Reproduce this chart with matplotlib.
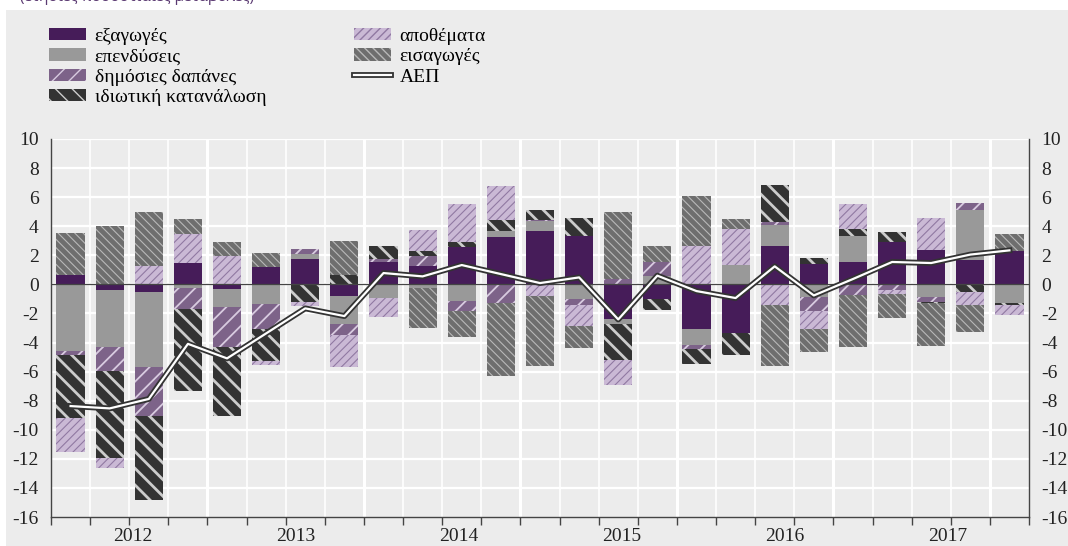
import numpy as np
import matplotlib as mpl
import matplotlib.pyplot as plt
import matplotlib.patheffects as pe
from matplotlib.patches import Rectangle

plt.rcParams['font.family'] = ['Liberation Serif', 'DejaVu Serif']
plt.rcParams['axes.unicode_minus'] = False

## quarters 2012Q1 .. 2018Q1
quarters = ['2012Q1', '2012Q2', '2012Q3', '2012Q4', '2013Q1', '2013Q2', '2013Q3', '2013Q4',
            '2014Q1', '2014Q2', '2014Q3', '2014Q4', '2015Q1', '2015Q2', '2015Q3', '2015Q4',
            '2016Q1', '2016Q2', '2016Q3', '2016Q4', '2017Q1', '2017Q2', '2017Q3', '2017Q4',
            '2018Q1']
years = ['2012', '2013', '2014', '2015', '2016', '2017']

## contributions (percentage points)
exports = [0.62, -0.41, -0.53, 1.49, -0.34, 1.17, 1.77, -0.83, 1.54, 1.24, 2.57, 3.24, 3.66,
           3.36, -2.41, -1.03, -3.06, -3.33, 2.62, 1.43, 1.52, 2.90, 2.34, 1.66, 2.30]
investment = [-4.60, -3.93, -5.13, -0.28, -1.24, -1.38, 0.34, -1.89, -0.94, -0.28, -1.17, 0.41, 0.69,
              -1.03, -0.34, 0.60, -1.08, 1.31, 1.49, -0.87, 1.79, 0.0, -0.87, 3.45, -1.26]
public = [-0.23, -1.59, -3.38, -1.40, -2.76, -1.72, 0.34, -0.74, 0.18, 0.69, -0.67, -1.26, 0.11,
          -0.39, 0.34, 0.94, -0.28, 0.0, 0.16, -0.99, -0.76, -0.41, -0.34, 0.46, 0.0]
private = [-4.37, -5.98, -5.77, -5.68, -4.69, -2.14, -1.22, 0.62, 0.90, 0.34, 0.32, 0.76, 0.64,
           1.20, -2.48, -0.76, -1.06, -1.56, 2.55, 0.37, 0.48, 0.69, -0.05, -0.53, -0.18]
inventories = [-2.30, -0.69, 1.24, 1.98, 1.93, -0.28, -0.28, -2.25, -1.31, 1.45, 2.62, 2.34, -0.83,
               -1.47, -1.72, 0.0, 2.62, 2.48, -1.45, -1.20, 1.72, -0.28, 2.21, -0.92, -0.69]
imports = [2.90, 4.00, 3.72, 1.01, 0.97, 0.97, 0.0, 2.34, 0.0, -2.74, -1.79, -5.01, -4.80,
           -1.49, 4.62, 1.13, 3.45, 0.69, -4.14, -1.61, -3.56, -1.63, -2.99, -1.84, 1.15]
gdp = [-8.37, -8.53, -7.88, -4.09, -5.09, -3.37, -1.65, -2.18, 0.78, 0.55, 1.33, 0.71, 0.09,
       0.48, -2.41, 0.60, -0.46, -0.94, 1.24, -0.76, 0.37, 1.54, 1.47, 2.05, 2.34]

## name, values, fill, hatch, hatch colour, hatch width
series = [
    ('εξαγωγές', exports, '#461c59', None, '#461c59', 1.0),
    ('επενδύσεις', investment, '#999999', None, '#999999', 1.0),
    ('δημόσιες δαπάνες', public, '#7d6389', '//', '#d8cbe0', 1.3),
    ('ιδιωτική κατανάλωση', private, '#333333', '\\\\', '#cccccc', 2.0),
    ('αποθέματα', inventories, '#cab9d5', '////', '#9079a2', 0.8),
    ('εισαγωγές', imports, '#6e6e6e', '\\\\\\\\', '#b8b8b8', 0.8),
]

W, H = 1068, 546
fig = plt.figure(figsize=(W / 100, H / 100), dpi=100, facecolor='white')
fig.patches.append(Rectangle((6 / W, 0), 1 - 6 / W, 1 - 10 / H, transform=fig.transFigure,
                             facecolor='#ececec', edgecolor='none', zorder=-5))
fig.text(20 / W, 1 + 3 / H, '(ετήσιες ποσοστιαίες μεταβολές)', color='#5b3a72',
         fontsize=11, family=['Open Sans', 'DejaVu Sans'], va='center', ha='left')

ax = fig.add_axes([51 / W, (H - 517) / H, (1029 - 51) / W, (517 - 139) / H])
ax.set_facecolor('none')
ax.set_zorder(1)

x = np.arange(len(quarters))
pos_bottom = np.zeros(len(x))
neg_bottom = np.zeros(len(x))
handles = []
for name, vals, fc, hatch, hc, hlw in series:
    v = np.array(vals)
    bottom = np.where(v >= 0, pos_bottom, neg_bottom)
    with mpl.rc_context({'hatch.linewidth': hlw}):
        bars = ax.bar(x, v, width=0.72, bottom=bottom, color=fc, edgecolor=hc,
                      linewidth=0, hatch=hatch, zorder=2, label=name)
    for b in bars:
        if hasattr(b, 'set_hatch_linewidth'):
            b.set_hatch_linewidth(hlw)
    pos_bottom += np.where(v >= 0, v, 0)
    neg_bottom += np.where(v < 0, v, 0)
    handles.append(bars)

line, = ax.plot(x, gdp, color='white', lw=1.6, zorder=5, label='ΑΕΠ',
                path_effects=[pe.Stroke(linewidth=4.2, foreground='#333333'), pe.Normal()])
handles.append(line)

ax.set_xlim(-0.5, len(x) - 0.5)
ax.set_ylim(-16, 10)
ax.set_yticks(np.arange(-16, 11, 2))

## grid
for yv in np.arange(-14, 11, 2):
    ax.axhline(yv, color='white', lw=1.6, zorder=1)
for b in np.arange(0.5, len(x) - 0.5, 1):
    lw = 2.2 if (b + 0.5) % 4 == 0 else 1.2
    ax.axvline(b, color='white', lw=lw, zorder=1)
ax.axhline(0, color='#444444', lw=0.9, zorder=3)

for s in ['left', 'right', 'bottom']:
    ax.spines[s].set_color('#444444')
    ax.spines[s].set_linewidth(1.0)
ax.spines['top'].set_visible(False)

ax.set_xticks(np.arange(-0.5, len(x), 1))
ax.set_xticklabels([])
ax.tick_params(axis='x', length=6, width=1, color='#444444', direction='out')
ax.tick_params(axis='y', length=0, labelleft=True, labelright=True, labelsize=14,
               labelcolor='#222222', pad=9)

## year labels spread evenly across the axis
n = len(x)
for k, yr in enumerate(years):
    xp = (k + 0.5) * n / len(years) - 0.5
    ax.annotate(yr, xy=(xp, -16), xytext=(0, -8), textcoords='offset points',
                ha='center', va='top', fontsize=14, color='#222222')

fig.legend(handles, [h.get_label() for h in handles], ncol=2, loc='upper left',
           bbox_to_anchor=(49 / W, 1 - 28 / H), frameon=False, fontsize=14,
           handlelength=1.9, handleheight=0.6, labelspacing=0.17, columnspacing=4.5,
           handletextpad=0.45, borderpad=0, borderaxespad=0)

fig.savefig('out.png', dpi=100, facecolor=fig.get_facecolor())
